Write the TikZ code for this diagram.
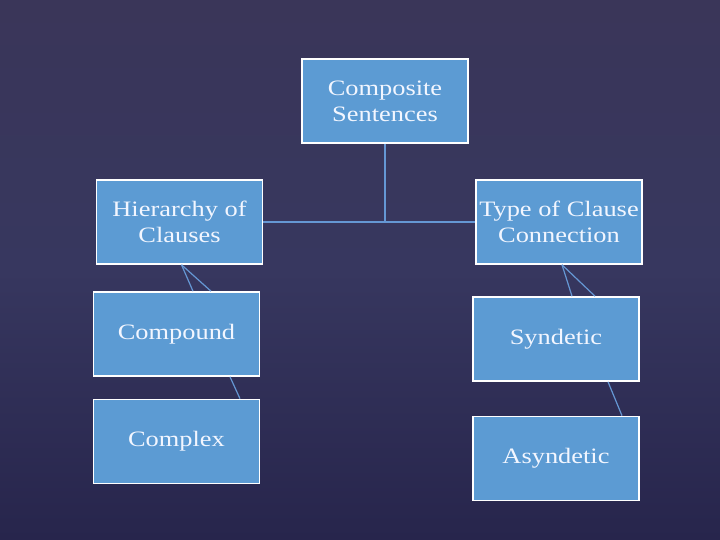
\documentclass[tikz,border=0pt]{standalone}
\usepackage{fontspec}
\setmainfont{Liberation Serif}[FakeStretch=1.2]
\definecolor{bgtop}{HTML}{3A3659}
\definecolor{bgmid}{HTML}{37375F}
\definecolor{bgbot}{HTML}{27254C}
\definecolor{boxfill}{HTML}{5C9BD3}
\definecolor{linkc}{HTML}{6597D4}
\definecolor{txt}{HTML}{F2F6FF}
\begin{document}
\begin{tikzpicture}[x=1pt,y=-1pt,
  catbox/.style={draw=white,line width=1.6pt,fill=boxfill,text=txt,
    minimum width=166pt,minimum height=84pt,inner sep=0pt,align=center,
    font=\fontsize{22}{26}\selectfont},
  link/.style={draw=linkc,line width=1.2pt}]
\shade[top color=bgtop,bottom color=bgbot,middle color=bgmid] (0,0) rectangle (720,540);
\useasboundingbox (0,0) rectangle (720,540);
\node[catbox] (comp) at (385,101) {Composite\\Sentences};
\node[catbox] (hier) at (179.5,222) {Hierarchy of\\Clauses};
\node[catbox] (type) at (559,222) {Type of Clause\\Connection};
\node[catbox] (cmpd) at (176.5,334) {Compound};
\node[catbox] (cplx) at (176.5,441.5) {Complex};
\node[catbox] (synd) at (556,339) {Syndetic};
\node[catbox] (asyn) at (556,458.5) {Asyndetic};
\coordinate (j) at (comp.south |- hier.east);
\draw[link] (comp.south) -- (j);
\draw[link] (hier.east) -- (type.west);
\coordinate (ha) at ([xshift=2pt]hier.south);
\coordinate (ta) at ([xshift=3pt]type.south);
\draw[link] (ha) -- (cmpd.north -| 193,0);
\draw[link] (ha) -- (cmpd.north -| 211,0);
\draw[link] (ta) -- (synd.north -| 572,0);
\draw[link] (ta) -- (synd.north -| 595,0);
\draw[link] (cmpd.south -| 230,0) -- (cplx.north -| 240,0);
\draw[link] (synd.south -| 608,0) -- (asyn.north -| 622,0);
\end{tikzpicture}
\end{document}
